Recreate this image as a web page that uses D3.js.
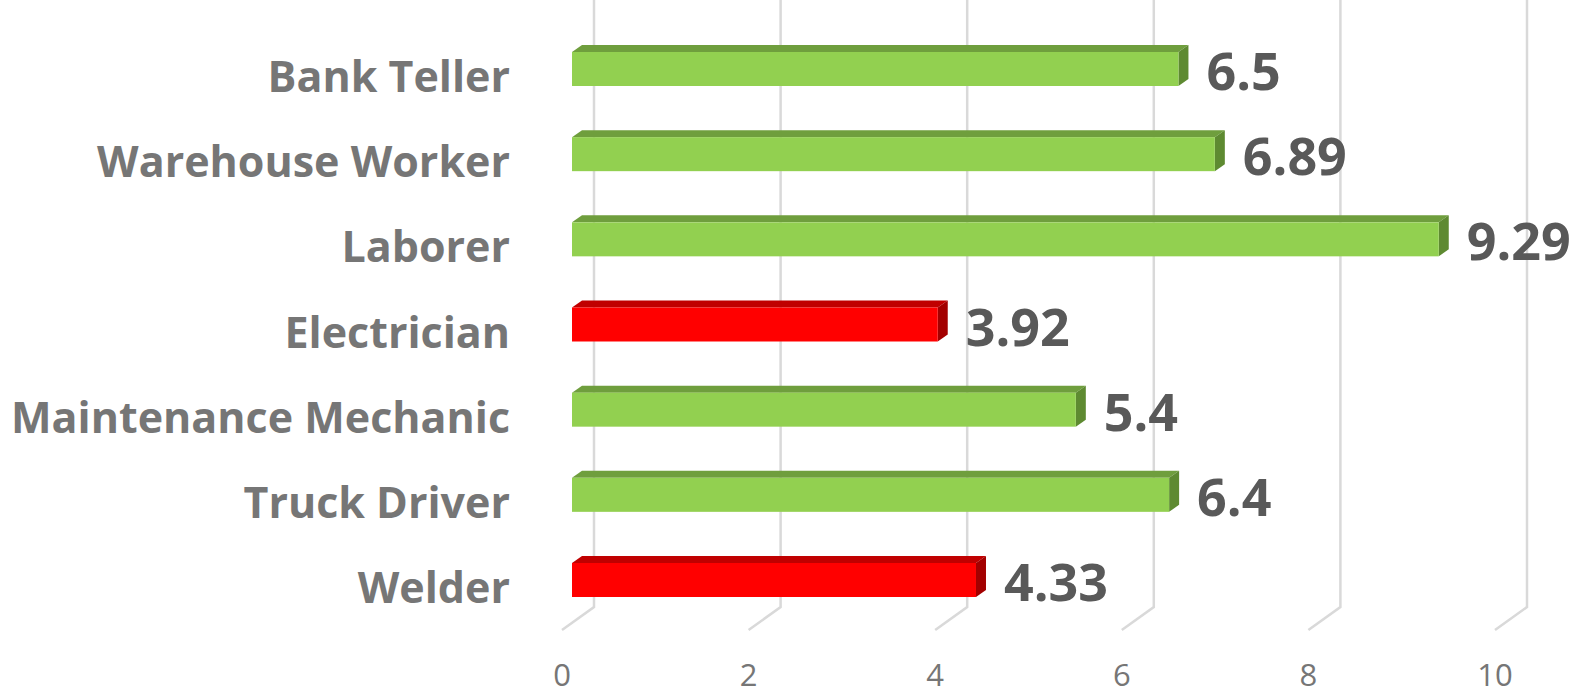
<!DOCTYPE html>
<html>
<head>
<meta charset="utf-8">
<script src="https://cdn.jsdelivr.net/npm/d3@7"></script>
<style>
  body { margin: 0; background: #fff; }
  svg { display: block; font-family: "Open Sans", sans-serif; }
</style>
</head>
<body>
<div id="chart"></div>
<script>
// Chart data
const categories = ['Bank Teller', 'Warehouse Worker', 'Laborer', 'Electrician', 'Maintenance Mechanic', 'Truck Driver', 'Welder'];
const values = [6.5, 6.89, 9.29, 3.92, 5.4, 6.4, 4.33];
const highlight = [false, false, false, true, false, false, true];
const xTicks = [0, 2, 4, 6, 8, 10];

const W = 1585, H = 695;

const svg = d3.select('#chart')
    .append('svg')
    .attr('width', W)
    .attr('height', H);

// Scales: front edge of the floor, bars sit a bit behind it
const x = d3.scaleLinear().domain([0, 10]).range([562, 1495]);
const y = d3.scalePoint().domain(categories).range([69, 580]);

const floorDx = 32, floorDy = -23;   // front -> back wall
const barShift = 10;                  // bar front face offset from floor front
const barDx = 10, barDy = -7;         // bar depth
const barH = 34;

const colors = {
    green: { front: '#92d050', top: '#6f9e3d', side: '#5e8a31' },
    red:   { front: '#ff0000', top: '#c00000', side: '#a30000' }
};

// Gridlines: back wall vertical + floor diagonal
svg.append('g')
    .selectAll('path')
    .data(xTicks)
    .join('path')
    .attr('d', d => {
        const fx = x(d), fy = 630;
        const bx = fx + floorDx, by = fy + floorDy;
        return `M${bx},0 L${bx},${by} L${fx},${fy}`;
    })
    .attr('fill', 'none')
    .attr('stroke', '#d9d9d9')
    .attr('stroke-width', 2.5);

// Tick labels
svg.append('g')
    .selectAll('text')
    .data(xTicks)
    .join('text')
    .attr('x', d => x(d))
    .attr('y', 686)
    .attr('text-anchor', 'middle')
    .attr('font-size', 31)
    .attr('fill', '#767676')
    .text(d => d);

// Bars
const bars = svg.append('g')
    .selectAll('g')
    .data(categories.map((c, i) => ({ c, v: values[i], hl: highlight[i] })))
    .join('g');

bars.each(function(d) {
    const g = d3.select(this);
    const col = d.hl ? colors.red : colors.green;
    const x0 = x(0) + barShift;
    const x1 = x(d.v) + barShift;
    const y0 = y(d.c) - barH / 2;
    const y1 = y(d.c) + barH / 2;

    // top face
    g.append('path')
        .attr('d', `M${x0},${y0} L${x0 + barDx},${y0 + barDy} L${x1 + barDx},${y0 + barDy} L${x1},${y0} Z`)
        .attr('fill', col.top);
    // side face
    g.append('path')
        .attr('d', `M${x1},${y0} L${x1 + barDx},${y0 + barDy} L${x1 + barDx},${y1 + barDy} L${x1},${y1} Z`)
        .attr('fill', col.side);
    // front face
    g.append('rect')
        .attr('x', x0)
        .attr('y', y0)
        .attr('width', x1 - x0)
        .attr('height', barH)
        .attr('fill', col.front);
});

// Value labels
bars.append('text')
    .attr('x', d => x(d.v) + barShift + 28)
    .attr('y', d => y(d.c) + 21)
    .attr('font-size', 52)
    .attr('font-weight', 700)
    .attr('fill', '#595959')
    .text(d => d.v);

// Category labels
svg.append('g')
    .selectAll('text')
    .data(categories)
    .join('text')
    .attr('x', 510)
    .attr('y', d => y(d) + 23)
    .attr('text-anchor', 'end')
    .attr('font-size', 43)
    .attr('font-weight', 700)
    .attr('fill', '#767676')
    .text(d => d);
</script>
</body>
</html>
